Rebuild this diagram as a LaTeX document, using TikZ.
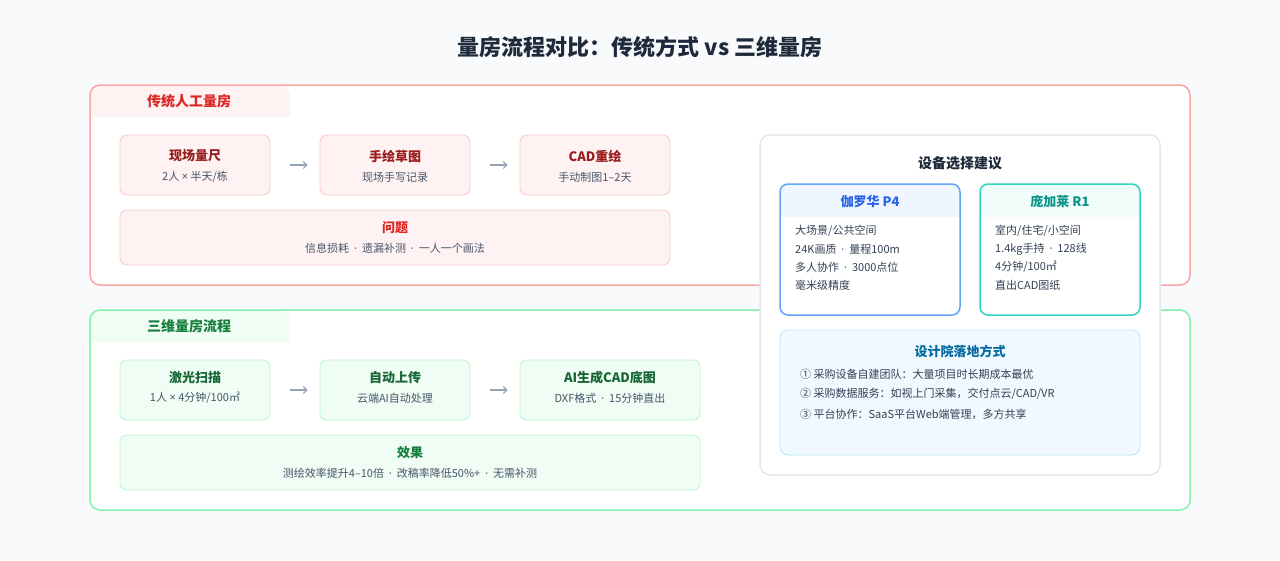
\documentclass[tikz,border=0pt]{standalone}
\usepackage{fontspec}
\setmainfont{Noto Sans CJK SC}
\newfontfamily\latinfont{Noto Sans}
\newcommand{\mdt}{\hspace{0.45em}{\latinfont ·}\hspace{0.45em}}
\newcommand{\mtimes}{{\latinfont ×}}
\usetikzlibrary{arrows.meta}
\definecolor{bg}{HTML}{F8FAFC}
\definecolor{titlec}{HTML}{1E293B}
\definecolor{redpanel}{HTML}{FCA5A5}
\definecolor{redtab}{HTML}{FEF2F2}
\definecolor{redlabel}{HTML}{DC2626}
\definecolor{redfill}{HTML}{FEF2F2}
\definecolor{redborder}{HTML}{FECACA}
\definecolor{redtitle}{HTML}{991B1B}
\definecolor{greenpanel}{HTML}{86EFAC}
\definecolor{greentab}{HTML}{F0FDF4}
\definecolor{greenlabel}{HTML}{15803D}
\definecolor{greenfill}{HTML}{F0FDF4}
\definecolor{greenborder}{HTML}{BBF7D0}
\definecolor{greentitle}{HTML}{166534}
\definecolor{subgray}{HTML}{475569}
\definecolor{arrgray}{HTML}{94A3B8}
\definecolor{panelborder}{HTML}{E2E8F0}
\definecolor{bodytext}{HTML}{334155}
\definecolor{blueborder}{HTML}{60A5FA}
\definecolor{bluehead}{HTML}{EFF6FF}
\definecolor{bluetitle}{HTML}{2563EB}
\definecolor{tealborder}{HTML}{2DD4BF}
\definecolor{tealhead}{HTML}{F0FDFA}
\definecolor{tealtitle}{HTML}{0D9488}
\definecolor{skyfill}{HTML}{F0F9FF}
\definecolor{skyborder}{HTML}{BAE6FD}
\definecolor{skytitle}{HTML}{0369A1}
\begin{document}
\begin{tikzpicture}[x=1pt,y=-1pt,
  panel/.style={draw, rounded corners=10pt, line width=1.5pt, fill=white, inner sep=0pt},
  stepbox/.style={draw, rounded corners=7pt, line width=0.9pt, inner sep=0pt, minimum height=60pt},
  cardbox/.style={draw, rounded corners=8pt, line width=1.5pt, inner sep=0pt, minimum width=180pt, minimum height=131pt},
  ttl/.style={font=\fontsize{13}{15}\selectfont\bfseries},
  sub/.style={font=\fontsize{11}{13}\selectfont, text=subgray},
  tablabel/.style={font=\fontsize{14}{16}\selectfont\bfseries},
  line/.style={font=\fontsize{11}{13}\selectfont, text=bodytext, anchor=west, inner sep=0pt},
  arr/.style={draw=arrgray, line width=1.1pt, -{Straight Barb[length=3.5pt,width=7pt]}, shorten <=20pt, shorten >=12pt},
]
\useasboundingbox (0,0) rectangle (1280,560);
\fill[bg] (0,0) rectangle (1280,560);

% title
\node[font=\fontsize{22}{26}\selectfont\bfseries, text=titlec] (title) at (640,47) {量房流程对比：传统方式 vs 三维量房};

% ===== top panel =====
\fill[white, rounded corners=10pt] (90,85) rectangle (1190,285);
\begin{scope}
  \clip[rounded corners=10pt] (90,85) rectangle (290,140);
  \fill[redtab] (90,85) rectangle (290,117);
\end{scope}
\node[panel, fill=none, draw=redpanel, minimum width=1100pt, minimum height=200pt] (toppanel) at (640,185) {};
\node[tablabel, text=redlabel] (toptab) at (189,101) {传统人工量房};

\node[stepbox, draw=redborder, fill=redfill, minimum width=150pt] (r1) at (195,165) {};
\node[stepbox, draw=redborder, fill=redfill, minimum width=150pt] (r2) at (395,165) {};
\node[stepbox, draw=redborder, fill=redfill, minimum width=150pt] (r3) at (595,165) {};
\node[ttl, text=redtitle] (r1t) at (195,156) {现场量尺};
\node[sub] (r1s) at (195,177) {2人 \mtimes{} 半天/栋};
\node[ttl, text=redtitle] (r2t) at (395,156) {手绘草图};
\node[sub] (r2s) at (395,177) {现场手写记录};
\node[ttl, text=redtitle] (r3t) at (595,156) {CAD重绘};
\node[sub] (r3s) at (595,177) {手动制图1–2天};
\draw[arr] (r1.east) -- (r2.west);
\draw[arr] (r2.east) -- (r3.west);

\node[stepbox, draw=redborder, fill=redfill, minimum width=550pt, minimum height=55pt] (prob) at (395,237.5) {};
\node[ttl, text=redlabel] (probt) at (395,228) {问题};
\node[sub] (probs) at (395,248) {信息损耗\mdt 遗漏补测\mdt 一人一个画法};

% ===== bottom panel =====
\fill[white, rounded corners=10pt] (90,310) rectangle (1190,510);
\begin{scope}
  \clip[rounded corners=10pt] (90,310) rectangle (290,365);
  \fill[greentab] (90,310) rectangle (290,342);
\end{scope}
\node[panel, fill=none, draw=greenpanel, minimum width=1100pt, minimum height=200pt] (botpanel) at (640,410) {};
\node[tablabel, text=greenlabel] (bottab) at (189,326) {三维量房流程};

\node[stepbox, draw=greenborder, fill=greenfill, minimum width=150pt] (g1) at (195,390) {};
\node[stepbox, draw=greenborder, fill=greenfill, minimum width=150pt] (g2) at (395,390) {};
\node[stepbox, draw=greenborder, fill=greenfill, minimum width=180pt] (g3) at (610,390) {};
\node[ttl, text=greentitle] (g1t) at (195,378) {激光扫描};
\node[sub] (g1s) at (195,398) {1人 \mtimes{} 4分钟/100㎡};
\node[ttl, text=greentitle] (g2t) at (395,378) {自动上传};
\node[sub] (g2s) at (395,398) {云端AI自动处理};
\node[ttl, text=greentitle] (g3t) at (610,378) {AI生成CAD底图};
\node[sub] (g3s) at (610,398) {DXF格式\mdt 15分钟直出};
\draw[arr] (g1.east) -- (g2.west);
\draw[arr] (g2.east) -- (g3.west);

\node[stepbox, draw=greenborder, fill=greenfill, minimum width=580pt, minimum height=55pt] (eff) at (410,462.5) {};
\node[ttl, text=greenlabel] (efft) at (410,453) {效果};
\node[sub] (effs) at (410,473) {测绘效率提升4–10倍\mdt 改稿率降低50\%+\mdt 无需补测};

% ===== right panel =====
\node[panel, draw=panelborder, minimum width=400pt, minimum height=340pt] (rp) at (960,305) {};
\node[font=\fontsize{14}{16}\selectfont\bfseries, text=titlec] (rpt) at (960,163) {设备选择建议};

% P4 card
\fill[white, rounded corners=8pt] (780,184) rectangle (960,315);
\begin{scope}
  \clip[rounded corners=8pt] (780,184) rectangle (960,315);
  \fill[bluehead] (780,184) rectangle (960,217);
\end{scope}
\node[cardbox, draw=blueborder] (p4) at (870,249.5) {};
\node[ttl, text=bluetitle] (p4t) at (870,202) {伽罗华 P4};
\node[line] (p4a) at (795,231) {大场景/公共空间};
\node[line] (p4b) at (795,249) {24K画质\mdt 量程100m};
\node[line] (p4c) at (795,267) {多人协作\mdt 3000点位};
\node[line] (p4d) at (795,285) {毫米级精度};

% R1 card
\fill[white, rounded corners=8pt] (980,184) rectangle (1140,315);
\begin{scope}
  \clip[rounded corners=8pt] (980,184) rectangle (1140,315);
  \fill[tealhead] (980,184) rectangle (1140,217);
\end{scope}
\node[cardbox, draw=tealborder, minimum width=160pt] (r1c) at (1060,249.5) {};
\node[ttl, text=tealtitle] (r1ct) at (1060,202) {庞加莱 R1};
\node[line] (r1a) at (995,231) {室内/住宅/小空间};
\node[line] (r1b) at (995,249) {1.4kg手持\mdt 128线};
\node[line] (r1cc) at (995,267) {4分钟/100㎡};
\node[line] (r1d) at (995,285) {直出CAD图纸};

% design institute box
\node[draw=skyborder, fill=skyfill, rounded corners=8pt, line width=0.9pt, inner sep=0pt, minimum width=360pt, minimum height=125pt] (di) at (960,392.5) {};
\node[ttl, text=skytitle] (dit) at (960,351) {设计院落地方式};
\node[line] (di1) at (800,374) {① 采购设备自建团队：大量项目时长期成本最优};
\node[line] (di2) at (800,394) {② 采购数据服务：如视上门采集，交付点云/CAD/VR};
\node[line] (di3) at (800,414) {③ 平台协作：SaaS平台Web端管理，多方共享};
\end{tikzpicture}
\end{document}
